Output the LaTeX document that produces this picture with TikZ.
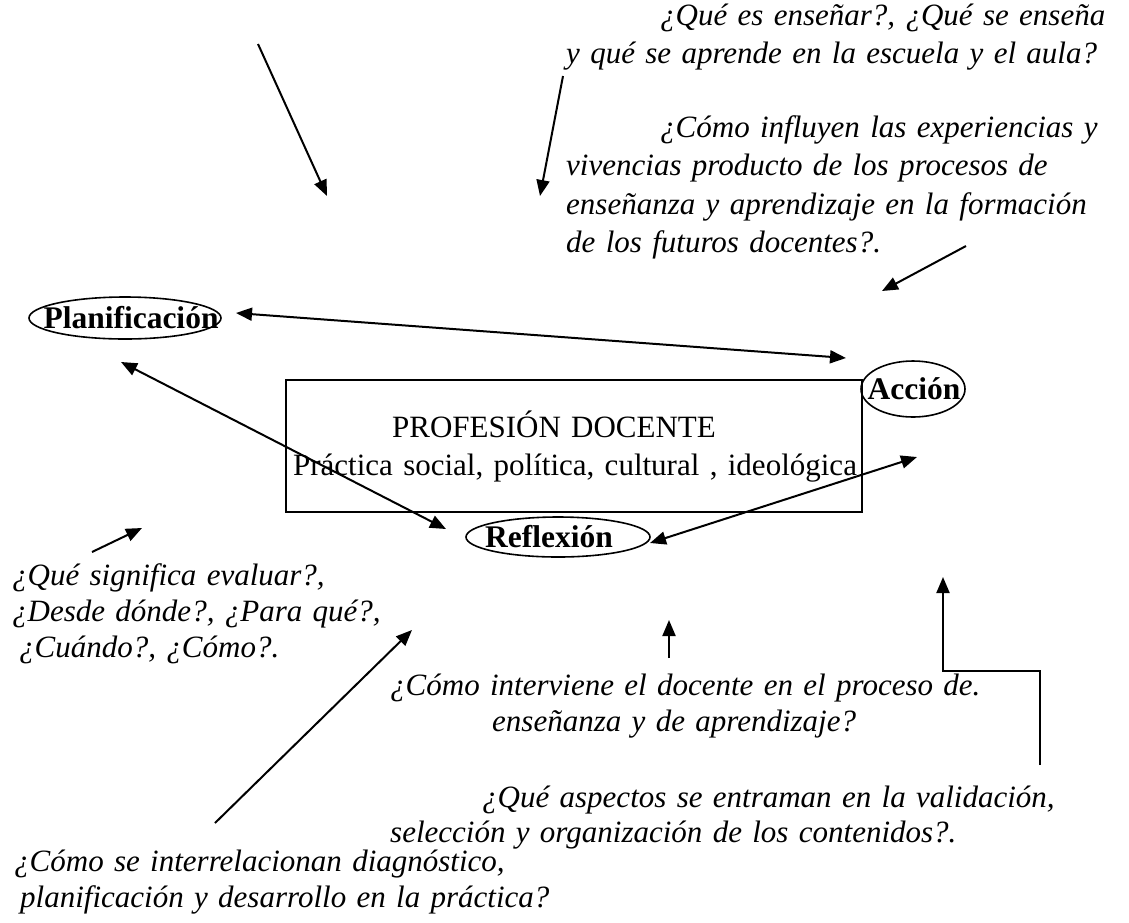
\documentclass[tikz,border=0pt]{standalone}
\usepackage{fontspec}
\setmainfont{Liberation Serif}
\usetikzlibrary{arrows.meta}

\begin{document}
\begin{tikzpicture}[x=1pt,y=-1pt,>={Triangle[length=16pt,width=13pt]},
    font=\fontsize{31}{38}\selectfont,
    flecha/.style={line width=2pt},
    ovalo/.style={line width=1.6pt},
    etiqueta/.style={inner sep=0pt,font=\fontsize{31.5}{38}\selectfont\bfseries},
    pregunta/.style={inner sep=0pt,anchor=base west,align=left,text width=760pt,
      font=\fontsize{31}{38.5}\selectfont\itshape}]
\useasboundingbox (0,0) rectangle (1129,922);

% caja central
\node[draw,line width=1.6pt,minimum width=576pt,minimum height=132pt,inner sep=0pt] (caja) at (574,446) {};
\node[inner sep=0pt,anchor=base,text width=600pt,align=center] (prof) at (575,437)
  {PROFESIÓN DOCENTE\rule{42pt}{0pt}\\Práctica social, política, cultural , ideológica};

% elipses
\coordinate (cplan) at (125,318);
\coordinate (cacc) at (913,389);
\coordinate (crefl) at (558,537);
\node[etiqueta] (plan) at (131,318) {Planificación};
\node[etiqueta] (accion) at (914,389) {Acción};
\node[etiqueta] (refl) at (549,537) {Reflexión};
\draw[ovalo] (cplan) ellipse [x radius=96pt,y radius=21pt];
\draw[ovalo] (cacc) ellipse [x radius=52pt,y radius=28pt];
\draw[ovalo] (crefl) ellipse [x radius=92pt,y radius=20pt];

% preguntas
\node[pregunta] (qensenar) at (566,25)
  {\makebox[547pt][s]{\hspace*{94pt}¿Qué es enseñar?, ¿Qué se enseña}\\y qué se aprende en la escuela y el aula?};
\node[pregunta] (qinfluyen) at (566,137)
  {\makebox[547pt][s]{\hspace*{94pt}¿Cómo influyen las experiencias y}\\
   \makebox[547pt][s]{vivencias producto de los procesos de}\\
   \makebox[547pt][s]{enseñanza y aprendizaje en la formación}\\
   de los futuros docentes?.};
\node[pregunta,font=\fontsize{31}{36}\selectfont\itshape] (qevaluar) at (12,585)
  {¿Qué significa evaluar?,\\¿Desde dónde?, ¿Para qué?,\\\hspace*{7pt}¿Cuándo?, ¿Cómo?.};
\node[pregunta,font=\fontsize{31}{36}\selectfont\itshape] (qinterviene) at (390,695)
  {¿Cómo interviene el docente en el proceso de.\\\hspace*{102pt}enseñanza y de aprendizaje?};
\node[pregunta,font=\fontsize{31}{35}\selectfont\itshape] (qaspectos) at (390,807)
  {\hspace*{92pt}¿Qué aspectos se entraman en la validación,\\selección y organización de los contenidos?.};
\node[pregunta,font=\fontsize{31}{36}\selectfont\itshape] (qdiagnostico) at (14,871)
  {¿Cómo se interrelacionan diagnóstico,\\\hspace*{6pt}planificación y desarrollo en la práctica?};

% extremos de flechas
\coordinate (p1) at (236,313);
\coordinate (a1) at (846,358);
\coordinate (p2) at (121,362);
\coordinate (r2) at (446,529);
\coordinate (r3) at (650,543);
\coordinate (a3) at (917,457);
\coordinate (s1) at (258,44);
\coordinate (t1) at (327,196);
\coordinate (s2) at (563,76);
\coordinate (t2) at (540,196);
\coordinate (s3) at (966,246);
\coordinate (t3) at (882,291);
\coordinate (s4) at (92,552);
\coordinate (t4) at (142,528);
\coordinate (s5) at (215,823);
\coordinate (t5) at (412,630);
\coordinate (s6) at (669,658);
\coordinate (t6) at (669,620);
\coordinate (s7) at (1040,765);
\coordinate (m7) at (943,671);
\coordinate (t7) at (943,577);

\draw[flecha,<->] (p1) -- (a1);
\draw[flecha,<->] (p2) -- (r2);
\draw[flecha,<->] (r3) -- (a3);
\draw[flecha,->] (s1) -- (t1);
\draw[flecha,->] (s2) -- (t2);
\draw[flecha,->] (s3) -- (t3);
\draw[flecha,->] (s4) -- (t4);
\draw[flecha,->] (s5) -- (t5);
\draw[flecha,->] (s6) -- (t6);
\draw[flecha,->] (s7) |- (m7) -- (t7);
\end{tikzpicture}
\end{document}
